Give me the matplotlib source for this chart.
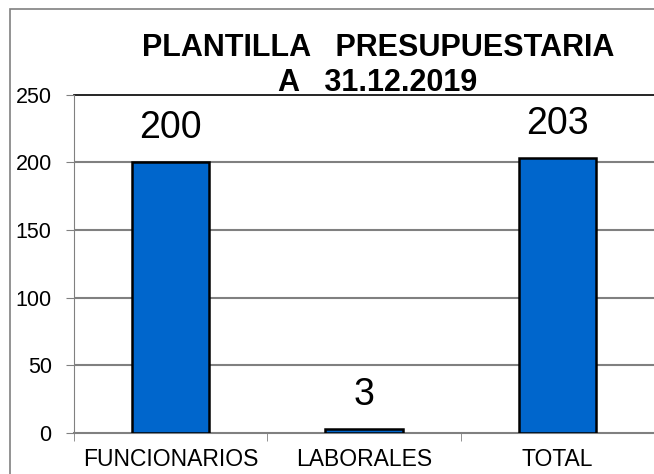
import matplotlib.pyplot as plt
from matplotlib.patches import Rectangle

categories = ['FUNCIONARIOS', 'LABORALES', 'TOTAL']
values = [200, 3, 203]
yticks = [0, 50, 100, 150, 200, 250]

plt.rcParams['font.family'] = ['Liberation Sans', 'DejaVu Sans']

fig = plt.figure(figsize=(6.54, 4.74), dpi=100)
ax = fig.add_axes([0.113, 0.0865, 0.887, 0.7135])

x = list(range(len(categories)))
ax.bar(x, values, width=0.4, color='#0066CC', edgecolor='black', linewidth=1.8, zorder=3)
for xi, v in zip(x, values):
    ax.text(xi, v + 12, str(v), ha='center', va='bottom', fontsize=27, zorder=4)

ax.set_xlim(-0.5, 2.5)
ax.set_ylim(0, 250)
ax.set_yticks(yticks)
ax.set_xticks(x)
ax.set_xticklabels(categories, fontsize=16.5)
ax.set_xticks([-0.5, 0.5, 1.5], minor=True)
ax.tick_params(axis='x', which='major', length=0, pad=11)
ax.tick_params(axis='x', which='minor', length=6, color='#808080', direction='out')
ax.tick_params(axis='y', labelsize=15.5, length=6, color='#808080', direction='out', pad=10)
for yv in yticks[1:-1]:
    ax.axhline(yv, color='#808080', linewidth=1.5, zorder=0)
ax.axhline(yticks[-1], color='black', linewidth=1.2, zorder=0, clip_on=False)
for s in ['top', 'right']:
    ax.spines[s].set_visible(False)
ax.spines['left'].set_color('#808080')
ax.spines['bottom'].set_color('#808080')
ax.spines['bottom'].set_linewidth(1.5)

fig.text(0.578, 0.899, 'PLANTILLA   PRESUPUESTARIA', ha='center', va='center',
         fontsize=22, fontweight='bold')
fig.text(0.578, 0.824, 'A   31.12.2019', ha='center', va='center',
         fontsize=22, fontweight='bold')

fig.patches.append(Rectangle((10 / 654, -0.1), 2, 1.1 - 9 / 474, transform=fig.transFigure,
                             fill=False, edgecolor='#808080', linewidth=1.2))

fig.savefig('out.png', dpi=100)
